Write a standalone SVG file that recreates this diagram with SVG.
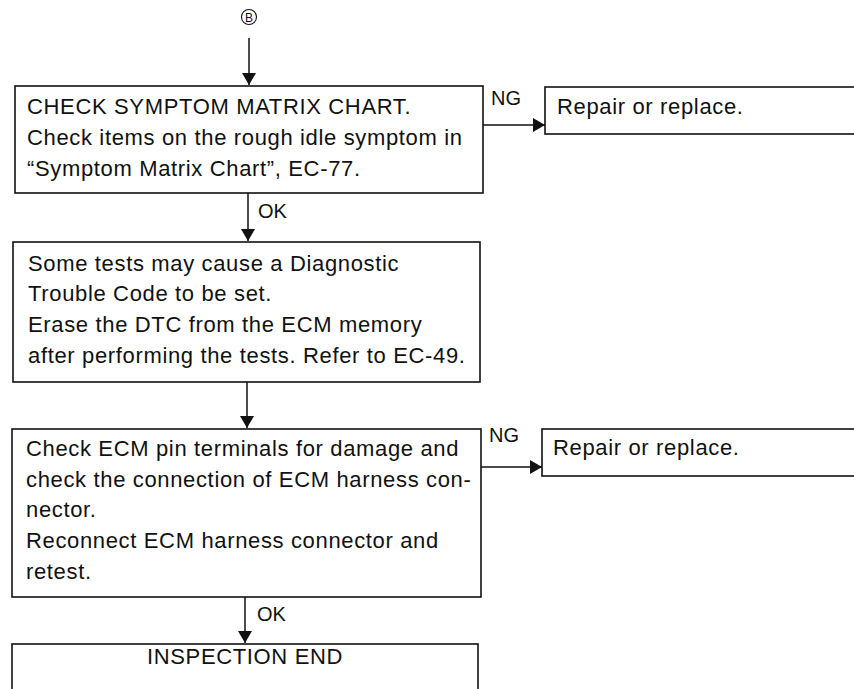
<svg xmlns="http://www.w3.org/2000/svg" width="854" height="689" viewBox="0 0 854 689">
  <style>
    .box { fill: #fff; stroke: #111; stroke-width: 1.6; }
    .edge { fill: none; stroke: #111; stroke-width: 1.5; }
    .t { font-family: "Liberation Sans", Arial, sans-serif; font-size: 22px; letter-spacing: 0.65px; fill: #111; }
    .lbl { font-family: "Liberation Sans", Arial, sans-serif; font-size: 20px; fill: #111; }
  </style>
  <defs>
    <marker id="arrow" viewBox="0 0 12 14" refX="12" refY="7" markerWidth="12" markerHeight="14" markerUnits="userSpaceOnUse" orient="auto">
      <path d="M0,0 L12,7 L0,14 Z" fill="#111"/>
    </marker>
  </defs>

  <rect width="854" height="689" fill="#fff"/>

  <!-- off-page connector B -->
  <g id="connector-b">
    <circle cx="249" cy="17" r="7.5" fill="none" stroke="#111" stroke-width="1.1"/>
    <text x="249" y="21.5" text-anchor="middle" font-family="Liberation Sans, Arial, sans-serif" font-size="12" fill="#111">B</text>
  </g>

  <g id="connectors">
    <line class="edge" x1="249" y1="38" x2="249" y2="85" marker-end="url(#arrow)"/>
    <line class="edge" x1="483" y1="125" x2="545" y2="125" marker-end="url(#arrow)"/>
    <text class="lbl" x="491" y="105">NG</text>
    <line class="edge" x1="248" y1="193" x2="248" y2="241" marker-end="url(#arrow)"/>
    <text class="lbl" x="258" y="218">OK</text>
    <line class="edge" x1="247" y1="382" x2="247" y2="428" marker-end="url(#arrow)"/>
    <line class="edge" x1="481" y1="467" x2="542" y2="467" marker-end="url(#arrow)"/>
    <text class="lbl" x="489" y="442">NG</text>
    <line class="edge" x1="245" y1="597" x2="245" y2="643" marker-end="url(#arrow)"/>
    <text class="lbl" x="257" y="621">OK</text>
  </g>

  <g id="check-symptom-matrix">
    <rect class="box" x="15" y="86" width="468" height="107"/>
    <text class="t" x="27" y="114">CHECK SYMPTOM MATRIX CHART.</text>
    <text class="t" x="27" y="145">Check items on the rough idle symptom in</text>
    <text class="t" x="27" y="176">“Symptom Matrix Chart”, EC-77.</text>
  </g>

  <g id="repair-1">
    <rect class="box" x="545" y="87" width="320" height="47"/>
    <text class="t" x="557" y="114">Repair or replace.</text>
  </g>

  <g id="erase-dtc">
    <rect class="box" x="13" y="242" width="467" height="140"/>
    <text class="t" x="28" y="271">Some tests may cause a Diagnostic</text>
    <text class="t" x="28" y="301">Trouble Code to be set.</text>
    <text class="t" x="28" y="332">Erase the DTC from the ECM memory</text>
    <text class="t" x="28" y="363">after performing the tests. Refer to EC-49.</text>
  </g>

  <g id="check-ecm-pins">
    <rect class="box" x="12" y="429" width="469" height="168"/>
    <text class="t" x="26" y="456">Check ECM pin terminals for damage and</text>
    <text class="t" x="26" y="487">check the connection of ECM harness con-</text>
    <text class="t" x="26" y="517">nector.</text>
    <text class="t" x="26" y="548">Reconnect ECM harness connector and</text>
    <text class="t" x="26" y="579">retest.</text>
  </g>

  <g id="repair-2">
    <rect class="box" x="542" y="429" width="323" height="47"/>
    <text class="t" x="553" y="455">Repair or replace.</text>
  </g>

  <g id="inspection-end">
    <rect class="box" x="12" y="644" width="466" height="60"/>
    <text class="t" x="245" y="664" text-anchor="middle">INSPECTION END</text>
  </g>
</svg>
